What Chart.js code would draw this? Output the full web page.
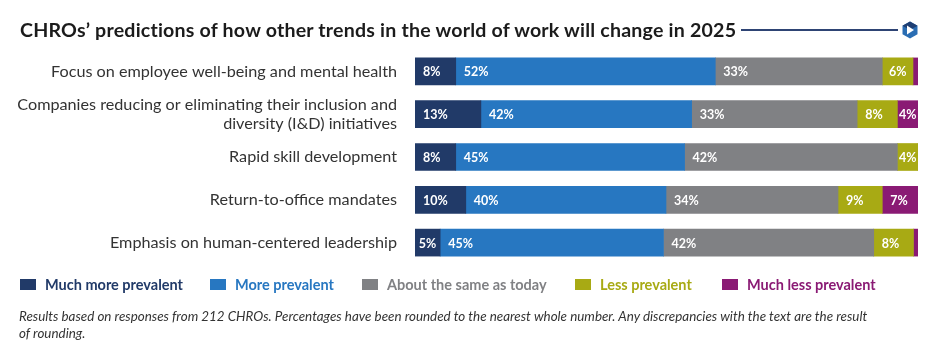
<!DOCTYPE html>
<html>
<head>
<meta charset="utf-8">
<script src="https://cdn.jsdelivr.net/npm/chart.js@4"></script>
<style>
  html, body { margin: 0; padding: 0; background: #fff; }
  body { width: 936px; height: 355px; position: relative; overflow: hidden; font-family: Lato, "Open Sans", sans-serif; }
  #title { position: absolute; left: 20px; top: 17px; font-size: 19.6px; font-weight: 700; color: #1b1b1b; white-space: nowrap; line-height: 26px; letter-spacing: 0.2px; }
  #rule { position: absolute; left: 741px; width: 157px; top: 29px; height: 2px; background: #2e4474; }
  #logo { position: absolute; left: 901px; top: 21px; }
  #chartWrap { position: absolute; left: 0; top: 0; width: 936px; height: 355px; }
  .lg { position: absolute; top: 276px; height: 18px; white-space: nowrap; font-size: 14.5px; font-weight: 700; line-height: 18px; }
  .lg .sw { position: absolute; left: 0; top: 3px; width: 16px; height: 11px; }
  .lg .tx { position: absolute; top: 0; }
  #note { position: absolute; left: 19px; top: 308px; font-size: 13.4px; font-style: italic; color: #333; line-height: 16.5px; white-space: nowrap; }
</style>
</head>
<body>
<div id="chartWrap"><canvas id="c" width="936" height="355"></canvas></div>
<div id="title">CHROs’ predictions of how other trends in the world of work will change in 2025</div>
<div id="rule"></div>
<svg id="logo" width="18" height="18" viewBox="0 0 18 18">
  <polygon points="9,0.5 16.5,4.8 16.5,13.2 9,17.5 1.5,13.2 1.5,4.8" fill="#2a6db3"/>
  <polygon points="9,0.5 16.5,4.8 9,9 1.5,4.8" fill="#1f3f73"/>
  <polygon points="6,4.5 13,9 6,13.5" fill="#ffffff"/>
</svg>
<div id="legend"></div>
<div id="note">Results based on responses from 212 CHROs. Percentages have been rounded to the nearest whole number. Any discrepancies with the text are the result<br>of rounding.</div>
<script>
// ---- Data ----
const categories = [
  "Focus on employee well-being and mental health",
  ["Companies reducing or eliminating their inclusion and", "diversity (I&D) initiatives"],
  "Rapid skill development",
  "Return-to-office mandates",
  "Emphasis on human-centered leadership"
];
const seriesNames = ["Much more prevalent", "More prevalent", "About the same as today", "Less prevalent", "Much less prevalent"];
const seriesColors = ["#213a68", "#2777c1", "#808184", "#a8aa14", "#8a1a74"];
const muchMore  = [8.1, 13.1, 8.1, 10.1, 5.0];
const more      = [51.6, 41.9, 45.5, 39.8, 44.4];
const same      = [33.2, 32.9, 42.3, 34.2, 41.8];
const less      = [6.1, 8.0, 4.1, 8.8, 7.9];
const muchLess  = [1.0, 4.1, 0, 7.1, 0.9];
const muchMoreLabels = ["8%", "13%", "8%", "10%", "5%"];
const moreLabels     = ["52%", "42%", "45%", "40%", "45%"];
const sameLabels     = ["33%", "33%", "42%", "34%", "42%"];
const lessLabels     = ["6%", "8%", "4%", "9%", "8%"];
const muchLessLabels = ["", "4%", "", "7%", ""];
const legendX = [20, 210, 362, 575, 722];

const seriesValues = [muchMore, more, same, less, muchLess];
const seriesLabels = [muchMoreLabels, moreLabels, sameLabels, lessLabels, muchLessLabels];

// ---- Legend (HTML) ----
const lg = document.getElementById('legend');
seriesNames.forEach((n, i) => {
  const d = document.createElement('div');
  d.className = 'lg';
  d.style.left = legendX[i] + 'px';
  d.innerHTML = '<span class="sw" style="background:' + seriesColors[i] + '"></span><span class="tx" style="left:25px;color:' + seriesColors[i] + '">' + n + '</span>';
  lg.appendChild(d);
});

// ---- Segment label plugin ----
const segLabels = {
  id: 'segLabels',
  afterDatasetsDraw(chart) {
    const ctx = chart.ctx;
    ctx.save();
    ctx.font = 'bold 12.5px Lato, "Open Sans", sans-serif';
    ctx.fillStyle = '#ffffff';
    ctx.textBaseline = 'middle';
    ctx.textAlign = 'left';
    chart.data.datasets.forEach((ds, di) => {
      const meta = chart.getDatasetMeta(di);
      meta.data.forEach((el, i) => {
        const txt = seriesLabels[di][i];
        if (!txt) return;
        const x0 = Math.min(el.base, el.x), x1 = Math.max(el.base, el.x);
        const w = x1 - x0;
        const tw = ctx.measureText(txt).width;
        const pad = Math.min(8, (w - tw) / 2);
        ctx.fillText(txt, x0 + pad, el.y + 1);
      });
    });
    ctx.restore();
  }
};

new Chart(document.getElementById('c'), {
  type: 'bar',
  data: {
    labels: categories,
    datasets: seriesNames.map((n, i) => ({
      label: n,
      data: seriesValues[i],
      backgroundColor: seriesColors[i],
      borderWidth: 0,
      barThickness: 27
    }))
  },
  options: {
    indexAxis: 'y',
    responsive: false,
    animation: false,
    layout: { padding: { left: 0, right: 18, top: 50, bottom: 91 } },
    plugins: { legend: { display: false }, tooltip: { enabled: false } },
    scales: {
      x: { stacked: true, min: 0, max: 100, display: false },
      y: {
        stacked: true,
        grid: { display: false, drawTicks: false },
        border: { display: false },
        ticks: {
          color: '#333333',
          padding: 18,
          font: { family: 'Lato, "Open Sans", sans-serif', size: 16.2, lineHeight: 1.15 },
          autoSkip: false
        },
        afterFit(scale) { scale.width = 415; }
      }
    }
  },
  plugins: [segLabels]
});
</script>
</body>
</html>
